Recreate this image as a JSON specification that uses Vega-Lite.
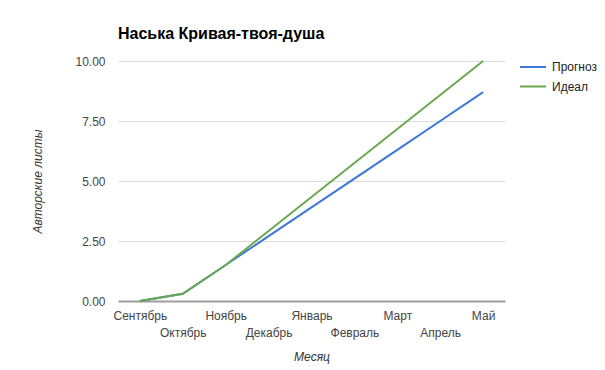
{
  "$schema": "https://vega.github.io/schema/vega-lite/v6.json",
  "width": 387,
  "height": 240,
  "autosize": {"type": "none"},
  "padding": {"left": 118, "top": 61, "right": 100, "bottom": 69},
  "background": "#ffffff",
  "title": {
    "text": "Наська Кривая-твоя-душа",
    "anchor": "start",
    "frame": "group",
    "font": "Liberation Sans",
    "fontSize": 16,
    "fontWeight": "bold",
    "color": "#000000",
    "offset": 13
  },
  "config": {
    "font": "Liberation Sans",
    "view": {"stroke": null}
  },
  "data": {
    "values": [
      {"month": "Сентябрь", "series": "Прогноз", "value": 0},
      {"month": "Октябрь", "series": "Прогноз", "value": 0.3},
      {"month": "Ноябрь", "series": "Прогноз", "value": 1.5},
      {"month": "Декабрь", "series": "Прогноз", "value": 2.7},
      {"month": "Январь", "series": "Прогноз", "value": 3.9},
      {"month": "Февраль", "series": "Прогноз", "value": 5.1},
      {"month": "Март", "series": "Прогноз", "value": 6.3},
      {"month": "Апрель", "series": "Прогноз", "value": 7.5},
      {"month": "Май", "series": "Прогноз", "value": 8.7},
      {"month": "Сентябрь", "series": "Идеал", "value": 0},
      {"month": "Октябрь", "series": "Идеал", "value": 0.3},
      {"month": "Ноябрь", "series": "Идеал", "value": 1.5},
      {"month": "Декабрь", "series": "Идеал", "value": 2.92},
      {"month": "Январь", "series": "Идеал", "value": 4.33},
      {"month": "Февраль", "series": "Идеал", "value": 5.75},
      {"month": "Март", "series": "Идеал", "value": 7.17},
      {"month": "Апрель", "series": "Идеал", "value": 8.58},
      {"month": "Май", "series": "Идеал", "value": 10}
    ]
  },
  "mark": {"type": "line", "strokeWidth": 2},
  "encoding": {
    "x": {
      "field": "month",
      "type": "ordinal",
      "sort": ["Сентябрь", "Октябрь", "Ноябрь", "Декабрь", "Январь", "Февраль", "Март", "Апрель", "Май"],
      "scale": {"type": "point", "padding": 0.51},
      "axis": {
        "title": "Месяц",
        "titleFontStyle": "italic",
        "titleFontWeight": "normal",
        "titleFontSize": 12,
        "titleColor": "#333333",
        "titlePadding": 13,
        "labelAngle": 0,
        "labelFontSize": 12,
        "labelColor": "#444444",
        "labelOverlap": false,
        "labelPadding": {
          "condition": {"test": "indexof(['Октябрь','Декабрь','Февраль','Апрель'], datum.value) >= 0", "value": 26},
          "value": 9
        },
        "ticks": false,
        "domain": false,
        "grid": false
      }
    },
    "y": {
      "field": "value",
      "type": "quantitative",
      "scale": {"domain": [0, 10], "nice": false},
      "axis": {
        "title": "Авторские листы",
        "titleFontStyle": "italic",
        "titleFontWeight": "normal",
        "titleFontSize": 12,
        "titleColor": "#333333",
        "titlePadding": 30,
        "values": [0, 2.5, 5, 7.5, 10],
        "format": ".2f",
        "labelFontSize": 12,
        "labelColor": "#444444",
        "labelPadding": 13,
        "ticks": false,
        "domain": false,
        "grid": true,
        "gridColor": {"condition": {"test": "datum.value === 0", "value": "#9e9e9e"}, "value": "#dddddd"},
        "gridWidth": {"condition": {"test": "datum.value === 0", "value": 2}, "value": 1}
      }
    },
    "color": {
      "field": "series",
      "type": "nominal",
      "sort": ["Прогноз", "Идеал"],
      "scale": {"domain": ["Прогноз", "Идеал"], "range": ["#3c78d8", "#6aa84f"]},
      "legend": {
        "title": null,
        "orient": "none",
        "legendX": 401,
        "legendY": 0,
        "symbolType": "stroke",
        "symbolSize": 676,
        "symbolStrokeWidth": 2,
        "labelFontSize": 12,
        "labelColor": "#222222",
        "labelOffset": 5,
        "clipHeight": 12,
        "rowPadding": 7.5
      }
    }
  }
}
